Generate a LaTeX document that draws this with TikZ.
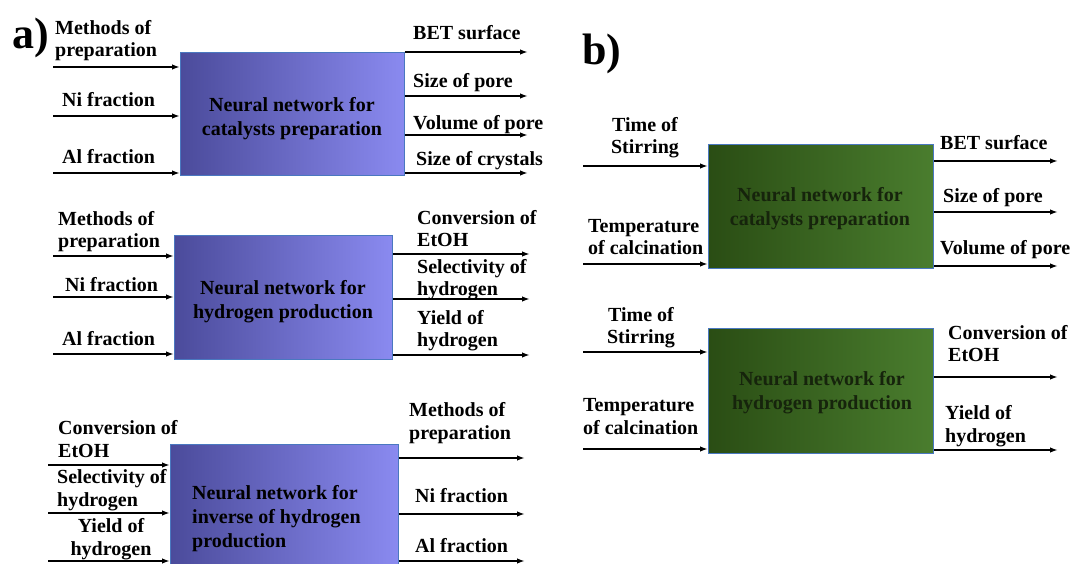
\documentclass[tikz,border=0pt]{standalone}
\usepackage{fontspec}
\setmainfont{Liberation Serif}
\usetikzlibrary{positioning,arrows.meta,calc}
\definecolor{nnblueL}{HTML}{4B4B9B}
\definecolor{nnblueR}{HTML}{8A8AF0}
\definecolor{nngreenL}{HTML}{2A4D14}
\definecolor{nngreenR}{HTML}{4A7D2E}
\definecolor{nnedge}{HTML}{4A78C0}
\definecolor{nntext}{HTML}{16240C}
\tikzset{
  lbl/.style={font=\bfseries\fontsize{20}{22.5}\selectfont, inner sep=0pt, align=left, anchor=base west},
  nnbox/.style={draw=nnedge, line width=0.8pt, anchor=north west, inner sep=0pt},
  nnblue/.style={nnbox, left color=nnblueL, right color=nnblueR},
  nngreen/.style={nnbox, left color=nngreenL, right color=nngreenR},
  boxtxt/.style={font=\bfseries\fontsize{20}{24}\selectfont, align=center, inner sep=0pt},
  fl/.style={-{Latex[length=8pt,width=5.5pt]}, line width=1.8pt, black},
  tag/.style={font=\bfseries\fontsize{44}{44}\selectfont, inner sep=0pt, anchor=base west},
}
\begin{document}
\begin{tikzpicture}[x=1pt,y=-1pt]
\useasboundingbox (0,0) rectangle (1072,564);
% panel tags
\node[tag] (tagA) at (12,49) {a)};
\node[tag] (tagB) at (582,65) {b)};

% ---- a) catalysts preparation
\node[nnblue, minimum width=224pt, minimum height=123pt] (A1) at (180,52) {};
\node[boxtxt] (A1t) at (292,119) {Neural network for\\catalysts preparation};
\coordinate (iA1a) at (53,67);  \coordinate (iA1b) at (53,116); \coordinate (iA1c) at (53,173);
\coordinate (oA1a) at (528,52); \coordinate (oA1b) at (528,96); \coordinate (oA1c) at (528,135); \coordinate (oA1d) at (528,173);
\node[lbl] (lA1a) at (55,57) {Methods of\\preparation};
\node[lbl] (lA1b) at (62,107) {Ni fraction};
\node[lbl] (lA1c) at (62,164) {Al fraction};
\node[lbl] (lA1d) at (413,40) {BET surface};
\node[lbl] (lA1e) at (413,88) {Size of pore};
\node[lbl] (lA1f) at (413,130) {Volume of pore};
\node[lbl] (lA1g) at (416,166) {Size of crystals};
\foreach \p in {a,b,c} \draw[fl] (iA1\p) -- (iA1\p -| A1.west);
\foreach \p in {a,b,c,d} \draw[fl] (oA1\p -| A1.east) -- (oA1\p);

% ---- a) hydrogen production
\node[nnblue, minimum width=218pt, minimum height=124pt] (A2) at (174,235) {};
\node[boxtxt] (A2t) at (283,302) {Neural network for\\hydrogen production};
\coordinate (iA2a) at (53,256);  \coordinate (iA2b) at (53,297); \coordinate (iA2c) at (53,354);
\coordinate (oA2a) at (530,254); \coordinate (oA2b) at (530,299); \coordinate (oA2c) at (530,355);
\node[lbl] (lA2a) at (58,248) {Methods of\\preparation};
\node[lbl] (lA2b) at (65,292) {Ni fraction};
\node[lbl] (lA2c) at (62,345) {Al fraction};
\node[lbl] (lA2d) at (417,247) {Conversion of\\EtOH};
\node[lbl] (lA2e) at (417,296) {Selectivity of\\hydrogen};
\node[lbl] (lA2f) at (417,347) {Yield of\\hydrogen};
\foreach \p in {a,b,c} \draw[fl] (iA2\p) -- (iA2\p -| A2.west);
\foreach \p in {a,b,c} \draw[fl] (oA2\p -| A2.east) -- (oA2\p);

% ---- a) inverse of hydrogen production
\node[nnblue, minimum width=228pt, minimum height=125pt] (A3) at (170,444) {};
\node[boxtxt, align=left, anchor=base west] (A3t) at (192,547) {Neural network for\\inverse of hydrogen\\production};
\coordinate (iA3a) at (48,465);  \coordinate (iA3b) at (48,513); \coordinate (iA3c) at (48,561);
\coordinate (oA3a) at (525,458); \coordinate (oA3b) at (525,514); \coordinate (oA3c) at (525,561);
\node[lbl] (lA3a) at (58,457) {Conversion of\\EtOH};
\node[lbl] (lA3b) at (57,506) {Selectivity of\\hydrogen};
\node[lbl, align=center, anchor=base] (lA3c) at (111,555) {Yield of\\hydrogen};
\node[lbl] (lA3d) at (409,439) {Methods of\\preparation};
\node[lbl] (lA3e) at (415,502) {Ni fraction};
\node[lbl] (lA3f) at (415,552) {Al fraction};
\foreach \p in {a,b,c} \draw[fl] (iA3\p) -- (iA3\p -| A3.west);
\foreach \p in {a,b,c} \draw[fl] (oA3\p -| A3.east) -- (oA3\p);

% ---- b) catalysts preparation
\node[nngreen, minimum width=225pt, minimum height=124pt] (B1) at (708,144) {};
\node[boxtxt, text=nntext] (B1t) at (820,209) {Neural network for\\catalysts preparation};
\coordinate (iB1a) at (583,166); \coordinate (iB1b) at (583,264);
\coordinate (oB1a) at (1058,161); \coordinate (oB1b) at (1058,212); \coordinate (oB1c) at (1058,266);
\node[lbl, align=center, anchor=base] (lB1a) at (645,154) {Time of\\Stirring};
\node[lbl] (lB1b) at (588,255) {Temperature\\of calcination};
\node[lbl] (lB1c) at (940,150) {BET surface};
\node[lbl] (lB1d) at (943,203) {Size of pore};
\node[lbl] (lB1e) at (940,255) {Volume of pore};
\foreach \p in {a,b} \draw[fl] (iB1\p) -- (iB1\p -| B1.west);
\foreach \p in {a,b,c} \draw[fl] (oB1\p -| B1.east) -- (oB1\p);

% ---- b) hydrogen production
\node[nngreen, minimum width=225pt, minimum height=125pt] (B2) at (708,328) {};
\node[boxtxt, text=nntext] (B2t) at (822,393) {Neural network for\\hydrogen production};
\coordinate (iB2a) at (583,352); \coordinate (iB2b) at (583,449);
\coordinate (oB2a) at (1058,377); \coordinate (oB2b) at (1058,450);
\node[lbl, align=center, anchor=base] (lB2a) at (641,344) {Time of\\Stirring};
\node[lbl] (lB2b) at (583,434) {Temperature\\of calcination};
\node[lbl] (lB2c) at (948,362) {Conversion of\\EtOH};
\node[lbl] (lB2d) at (945,442) {Yield of\\hydrogen};
\foreach \p in {a,b} \draw[fl] (iB2\p) -- (iB2\p -| B2.west);
\foreach \p in {a,b} \draw[fl] (oB2\p -| B2.east) -- (oB2\p);
\end{tikzpicture}
\end{document}
